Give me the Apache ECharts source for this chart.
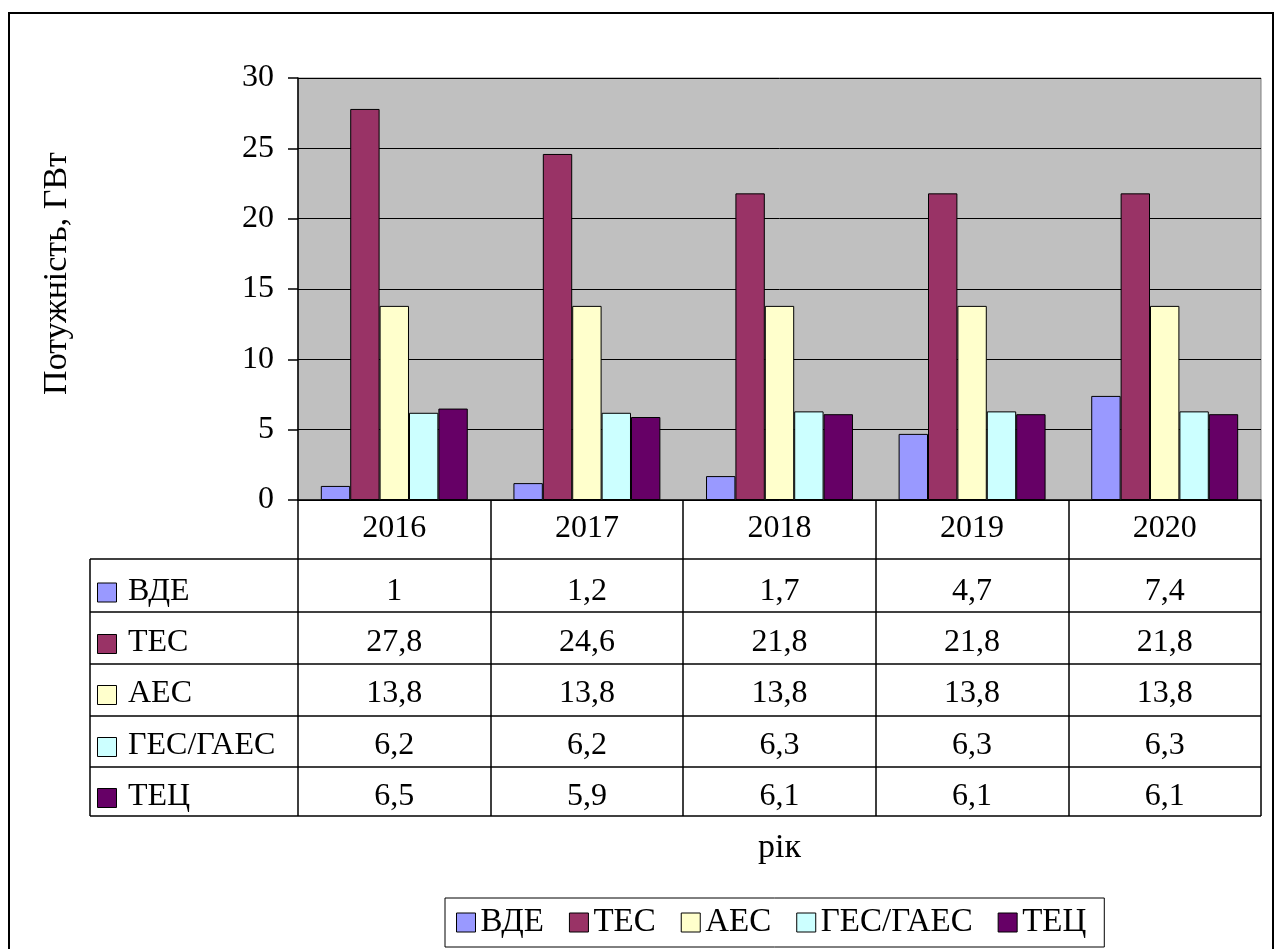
<!DOCTYPE html>
<html>
<head>
<meta charset="utf-8">
<script src="https://cdn.jsdelivr.net/npm/echarts@6/dist/echarts.min.js"></script>
<style>
html,body{margin:0;padding:0;background:#fff;}
#chart{width:1276px;height:949px;}
</style>
</head>
<body>
<div id="chart"></div>
<script>
// ---- data ----
const years = ['2016', '2017', '2018', '2019', '2020'];
const seriesNames = ['ВДЕ', 'ТЕС', 'АЕС', 'ГЕС/ГАЕС', 'ТЕЦ'];
const vde = [1, 1.2, 1.7, 4.7, 7.4];
const tes = [27.8, 24.6, 21.8, 21.8, 21.8];
const aes = [13.8, 13.8, 13.8, 13.8, 13.8];
const ges = [6.2, 6.2, 6.3, 6.3, 6.3];
const tec = [6.5, 5.9, 6.1, 6.1, 6.1];
const yTicks = [0, 5, 10, 15, 20, 25, 30];
const yAxisName = 'Потужність, ГВт';
const xAxisName = 'рік';

// ---- styling / layout ----
const colors = ['#9999FF', '#993366', '#FFFFCC', '#CCFFFF', '#660066'];
const FONT = '"Liberation Serif", "Times New Roman", serif';
const FS = 32;
const FS_NAME = 34;
const FS_LEG = 33;
const gridLeft = 298, gridTop = 78, gridRight = 1261, gridBottom = 500;
const rowLines = [559, 612, 664, 716, 767, 816];
const rowCenters = [591.5, 643, 694, 746, 797];
const tableLeft = 90;

const allValues = [vde, tes, aes, ges, tec];
const fmt = v => String(v).replace('.', ',');

const chart = echarts.init(document.getElementById('chart'), null, {renderer: 'canvas'});

const xAxes = [{
  type: 'category',
  data: years,
  position: 'bottom',
  boundaryGap: true,
  axisLine: {show: true, lineStyle: {color: '#000', width: 1.5}},
  axisTick: {show: true, inside: false, length: rowLines[rowLines.length - 1] - gridBottom, interval: 0, alignWithLabel: false, lineStyle: {color: '#000', width: 1.5}},
  axisLabel: {interval: 0, margin: 29, verticalAlign: 'middle', fontSize: FS, fontFamily: FONT, color: '#000'},
  splitLine: {show: false},
  name: xAxisName,
  nameLocation: 'middle',
  nameGap: 348,
  nameTextStyle: {fontSize: FS_NAME, fontFamily: FONT, color: '#000', verticalAlign: 'middle'}
}];
allValues.forEach((vals, i) => {
  xAxes.push({
    type: 'category',
    gridIndex: 0,
    position: 'bottom',
    offset: 0,
    data: vals.map(fmt),
    axisLine: {show: false},
    axisTick: {show: false},
    splitLine: {show: false},
    axisLabel: {interval: 0, margin: rowCenters[i] - gridBottom, verticalAlign: 'middle', fontSize: FS, fontFamily: FONT, color: '#000'}
  });
});

const graphics = [];
// outer frame
graphics.push({type: 'rect', shape: {x: 9, y: 13, width: 1264, height: 960}, style: {fill: 'none', stroke: '#000', lineWidth: 2}, silent: true, z: 0});
// table horizontal lines
rowLines.forEach(y => {
  graphics.push({type: 'line', shape: {x1: tableLeft, y1: y, x2: gridRight, y2: y}, style: {stroke: '#000', lineWidth: 1.5}, silent: true, z: 10});
});
// table left edge
graphics.push({type: 'line', shape: {x1: tableLeft, y1: rowLines[0], x2: tableLeft, y2: rowLines[rowLines.length - 1]}, style: {stroke: '#000', lineWidth: 1.5}, silent: true, z: 10});
// row headers (swatch + name)
seriesNames.forEach((name, i) => {
  const cy = rowCenters[i];
  graphics.push({type: 'rect', shape: {x: 97.5, y: cy - 8.5, width: 19, height: 19}, style: {fill: colors[i], stroke: '#000', lineWidth: 1}, silent: true, z: 10});
  graphics.push({type: 'text', x: 128, y: cy, style: {text: name, fontSize: FS, fontFamily: FONT, fill: '#000', verticalAlign: 'middle', align: 'left'}, silent: true, z: 10});
});

const option = {
  animation: false,
  backgroundColor: '#fff',
  grid: {left: gridLeft, top: gridTop, width: gridRight - gridLeft, height: gridBottom - gridTop, show: true, backgroundColor: '#C0C0C0', borderColor: '#808080', borderWidth: 1, containLabel: false},
  legend: {
    data: seriesNames,
    left: 445,
    top: 898,
    orient: 'horizontal',
    icon: 'rect',
    itemWidth: 19,
    itemHeight: 19,
    itemGap: 25,
    padding: [8, 18, 8, 11],
    borderColor: '#000',
    borderWidth: 1,
    backgroundColor: '#fff',
    itemStyle: {borderColor: '#000', borderWidth: 1},
    textStyle: {fontSize: FS_LEG, fontFamily: FONT, color: '#000', padding: [0, 0, 0, 0]},
    selectedMode: false
  },
  xAxis: xAxes,
  yAxis: {
    type: 'value',
    min: yTicks[0],
    max: yTicks[yTicks.length - 1],
    interval: yTicks[1] - yTicks[0],
    axisLine: {show: true, lineStyle: {color: '#000', width: 1.5}},
    axisTick: {show: true, inside: false, length: 10, lineStyle: {color: '#000', width: 1.5}},
    axisLabel: {margin: 24, fontSize: FS, fontFamily: FONT, color: '#000'},
    splitLine: {show: true, lineStyle: {color: '#000', width: 1}},
    name: yAxisName,
    nameLocation: 'middle',
    nameRotate: 90,
    nameGap: 241,
    nameTextStyle: {fontSize: FS_NAME, fontFamily: FONT, color: '#000', verticalAlign: 'middle', padding: [0, 0, 0, 31]}
  },
  series: seriesNames.map((name, i) => ({
    name: name,
    type: 'bar',
    xAxisIndex: 0,
    data: allValues[i],
    barGap: '0%',
    barCategoryGap: '23.7%',
    itemStyle: {color: colors[i], borderColor: '#000', borderWidth: 1},
    emphasis: {disabled: true}
  })),
  graphic: graphics
};

chart.setOption(option);
</script>
</body>
</html>
